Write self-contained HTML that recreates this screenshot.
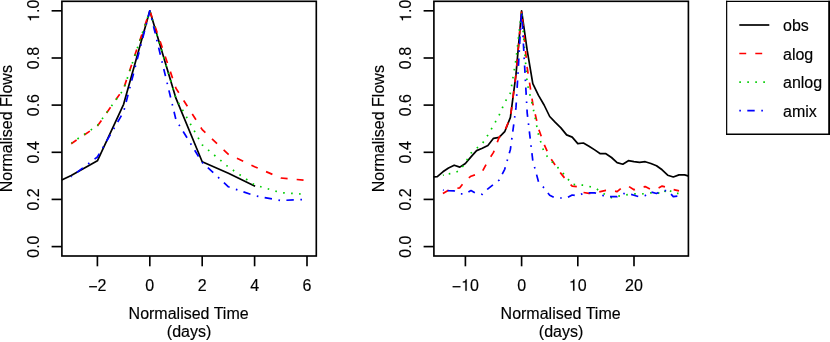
<!DOCTYPE html>
<html><head><meta charset="utf-8"><title>Normalised Flows</title>
<style>
html,body{margin:0;padding:0;background:#fff;}
body{width:830px;height:342px;overflow:hidden;}
svg{display:block;will-change:transform;}
text{font-family:"Liberation Sans",sans-serif;font-size:16px;fill:#000;stroke:#000;stroke-width:0.15px;}
</style></head><body>
<svg width="830" height="342" viewBox="0 0 830 342">
<rect x="0" y="0" width="830" height="342" fill="#fff"/>
<polyline points="61.7,180.0 71.2,175.4 97.4,160.8 123.6,104.3 149.8,10.8 176.0,98.4 202.2,161.8 228.4,173.2 255.1,186.2" fill="none" stroke="#000" stroke-width="1.7" stroke-linejoin="round"/>
<polyline points="71.2,143.7 97.4,126.1 123.6,88.6 149.8,10.8 176.0,88.4 202.2,129.6 228.4,154.3 254.6,166.7 280.8,178.0 307.0,180.5" fill="none" stroke="#FF0000" stroke-width="1.7" stroke-linejoin="round" stroke-dasharray="6.9 9.1" stroke-dashoffset="0.4"/>
<polyline points="71.5,143.0 97.4,125.5 123.6,89.4 149.8,10.8 176.0,98.4 202.2,144.9 228.4,167.0 254.6,184.9 280.8,192.7 307.0,194.4" fill="none" stroke="#00CD00" stroke-width="1.7" stroke-linejoin="round" stroke-dasharray="1.6 6.4" stroke-dashoffset="0.8"/>
<polyline points="71.2,176.7 97.4,157.0 123.6,111.8 149.8,10.8 176.0,119.9 202.2,162.4 228.4,186.8 254.6,195.7 280.8,200.5 307.0,199.4" fill="none" stroke="#0000FF" stroke-width="1.7" stroke-linejoin="round" stroke-dasharray="1.6 6.4 7.4 6.6" stroke-dashoffset="0.8"/>
<rect x="61.9" y="1.3" width="254.4" height="254.7" fill="none" stroke="#000" stroke-width="1.65"/>
<line x1="51.6" y1="246.6" x2="61.9" y2="246.6" stroke="#000" stroke-width="1.65"/>
<text transform="translate(39.1,246.6) rotate(-90)" text-anchor="middle">0.0</text>
<line x1="51.6" y1="199.4" x2="61.9" y2="199.4" stroke="#000" stroke-width="1.65"/>
<text transform="translate(39.1,199.4) rotate(-90)" text-anchor="middle">0.2</text>
<line x1="51.6" y1="152.3" x2="61.9" y2="152.3" stroke="#000" stroke-width="1.65"/>
<text transform="translate(39.1,152.3) rotate(-90)" text-anchor="middle">0.4</text>
<line x1="51.6" y1="105.1" x2="61.9" y2="105.1" stroke="#000" stroke-width="1.65"/>
<text transform="translate(39.1,105.1) rotate(-90)" text-anchor="middle">0.6</text>
<line x1="51.6" y1="58.0" x2="61.9" y2="58.0" stroke="#000" stroke-width="1.65"/>
<text transform="translate(39.1,58.0) rotate(-90)" text-anchor="middle">0.8</text>
<line x1="51.6" y1="10.8" x2="61.9" y2="10.8" stroke="#000" stroke-width="1.65"/>
<path transform="translate(39.1,10.8) rotate(-90) translate(-11.12,0) scale(0.0160)" d="M259 -505 L259 0 L347 0 L347 -709 L289 -709 C258 -600 238 -585 102 -568 L102 -505 Z" fill="#000" stroke="#000" stroke-width="9"/><text transform="translate(39.1,10.8) rotate(-90)" x="-2.22" y="0">.0</text>
<line x1="97.4" y1="256.0" x2="97.4" y2="266.3" stroke="#000" stroke-width="1.65"/>
<text transform="translate(97.4,290.7)" x="-9.12" y="1.4">−</text><text transform="translate(97.4,290.7)" x="0.22" y="0">2</text>
<line x1="149.8" y1="256.0" x2="149.8" y2="266.3" stroke="#000" stroke-width="1.65"/>
<text transform="translate(149.8,290.7)" text-anchor="middle">0</text>
<line x1="202.2" y1="256.0" x2="202.2" y2="266.3" stroke="#000" stroke-width="1.65"/>
<text transform="translate(202.2,290.7)" text-anchor="middle">2</text>
<line x1="254.6" y1="256.0" x2="254.6" y2="266.3" stroke="#000" stroke-width="1.65"/>
<text transform="translate(254.6,290.7)" text-anchor="middle">4</text>
<line x1="307.0" y1="256.0" x2="307.0" y2="266.3" stroke="#000" stroke-width="1.65"/>
<text transform="translate(307.0,290.7)" text-anchor="middle">6</text>
<text x="188.6" y="318.5" text-anchor="middle">Normalised Time</text>
<text x="189.1" y="336.5" text-anchor="middle">(days)</text>
<text transform="translate(11.7,128.7) rotate(-90)" text-anchor="middle">Normalised Flows</text>
<polyline points="433.4,176.8 437.3,176.6 442.9,171.8 448.5,168.0 454.2,165.2 459.8,167.1 465.4,163.5 471.0,156.9 476.6,150.6 482.3,148.3 487.9,145.6 493.5,138.3 499.1,137.4 504.7,131.7 510.4,117.4 516.0,74.4 521.6,10.8 527.2,50.4 532.8,83.7 538.5,95.4 544.1,105.0 549.7,116.5 555.3,122.4 560.9,127.9 566.6,134.9 572.2,137.1 577.8,143.6 583.4,143.0 589.0,146.2 594.7,149.9 600.3,153.7 605.9,153.7 611.5,157.5 617.1,162.6 622.8,164.2 628.4,160.7 634.0,161.6 639.6,162.3 645.2,161.7 650.9,163.5 656.5,165.7 662.1,169.8 667.7,175.2 673.3,177.0 679.0,174.9 684.6,174.9 688.8,176.1" fill="none" stroke="#000" stroke-width="1.7" stroke-linejoin="round"/>
<polyline points="442.9,193.6 448.5,190.3 454.2,188.9 459.8,187.8 465.4,180.5 471.0,176.2 476.6,174.3 482.3,171.5 487.9,161.1 493.5,152.4 499.1,137.4 504.7,130.9 510.4,117.4 516.0,74.4 521.6,10.8 527.2,67.9 532.8,103.6 538.5,128.6 544.1,144.3 549.7,156.9 555.3,165.2 560.9,173.4 566.6,180.5 572.2,186.2 577.8,186.8 583.4,192.5 589.0,193.4 594.7,192.9 600.3,191.6 605.9,190.4 611.5,190.2 617.1,191.6 622.8,186.8 628.4,186.2 634.0,189.8 639.6,187.4 645.2,186.6 650.9,189.5 656.5,189.0 662.1,186.1 667.7,187.7 673.3,189.5 679.0,190.9" fill="none" stroke="#FF0000" stroke-width="1.7" stroke-linejoin="round" stroke-dasharray="6.9 9.1" stroke-dashoffset="0.4"/>
<line x1="442.9" y1="175.3" x2="443.7" y2="175.1" stroke="#00CD00" stroke-width="1.7"/><polyline points="442.9,175.3 448.5,174.0 454.2,173.0 459.8,170.5 465.4,162.6 471.0,153.1 476.6,148.3 482.3,143.7 487.9,134.9 493.5,125.4 499.1,115.4 504.7,102.4 510.4,93.0 516.0,59.4 521.6,10.8 527.2,83.4 532.8,106.4 538.5,134.8 544.1,152.4 549.7,159.6 555.3,165.0 560.9,170.7 566.6,177.4 572.2,184.3 577.8,184.9 583.4,185.1 589.0,186.4 594.7,187.7 600.3,191.3 605.9,195.1 611.5,197.6 617.1,196.4 622.8,195.4 628.4,194.5 634.0,193.8 639.6,194.1 645.2,193.6 650.9,192.9 656.5,192.2 662.1,194.5 667.7,188.4 673.3,193.5 679.0,193.4" fill="none" stroke="#00CD00" stroke-width="1.7" stroke-linejoin="round" stroke-dasharray="1.6 6.4" stroke-dashoffset="2.0"/>
<line x1="442.9" y1="190.1" x2="443.7" y2="190.2" stroke="#0000FF" stroke-width="1.7"/><polyline points="442.9,190.1 448.5,190.6 454.2,190.9 459.8,193.8 465.4,193.8 471.0,190.6 476.6,193.8 482.3,194.3 487.9,188.8 493.5,184.4 499.1,180.1 504.7,169.3 510.4,149.4 516.0,107.4 521.6,10.8 527.2,113.1 532.8,160.6 538.5,181.8 544.1,188.0 549.7,195.2 555.3,198.0 560.9,198.0 566.6,198.0 572.2,195.0 577.8,195.9 583.4,193.2 589.0,192.9 594.7,192.9 600.3,194.5 605.9,196.7 611.5,196.7 617.1,196.7 622.8,193.5 628.4,193.7 634.0,195.2 639.6,196.9 645.2,195.6 650.9,191.9 656.5,193.5 662.1,190.6 667.7,190.6 673.3,196.6 679.0,195.9" fill="none" stroke="#0000FF" stroke-width="1.7" stroke-linejoin="round" stroke-dasharray="1.6 6.4 7.4 6.6" stroke-dashoffset="3.3"/>
<rect x="433.9" y="1.3" width="254.5" height="254.7" fill="none" stroke="#000" stroke-width="1.65"/>
<line x1="423.6" y1="246.6" x2="433.9" y2="246.6" stroke="#000" stroke-width="1.65"/>
<text transform="translate(411.1,246.6) rotate(-90)" text-anchor="middle">0.0</text>
<line x1="423.6" y1="199.4" x2="433.9" y2="199.4" stroke="#000" stroke-width="1.65"/>
<text transform="translate(411.1,199.4) rotate(-90)" text-anchor="middle">0.2</text>
<line x1="423.6" y1="152.3" x2="433.9" y2="152.3" stroke="#000" stroke-width="1.65"/>
<text transform="translate(411.1,152.3) rotate(-90)" text-anchor="middle">0.4</text>
<line x1="423.6" y1="105.1" x2="433.9" y2="105.1" stroke="#000" stroke-width="1.65"/>
<text transform="translate(411.1,105.1) rotate(-90)" text-anchor="middle">0.6</text>
<line x1="423.6" y1="58.0" x2="433.9" y2="58.0" stroke="#000" stroke-width="1.65"/>
<text transform="translate(411.1,58.0) rotate(-90)" text-anchor="middle">0.8</text>
<line x1="423.6" y1="10.8" x2="433.9" y2="10.8" stroke="#000" stroke-width="1.65"/>
<path transform="translate(411.1,10.8) rotate(-90) translate(-11.12,0) scale(0.0160)" d="M259 -505 L259 0 L347 0 L347 -709 L289 -709 C258 -600 238 -585 102 -568 L102 -505 Z" fill="#000" stroke="#000" stroke-width="9"/><text transform="translate(411.1,10.8) rotate(-90)" x="-2.22" y="0">.0</text>
<line x1="465.4" y1="256.0" x2="465.4" y2="266.3" stroke="#000" stroke-width="1.65"/>
<text transform="translate(465.4,290.7)" x="-13.57" y="1.4">−</text><path transform="translate(465.4,290.7) translate(-4.22,0) scale(0.0160)" d="M259 -505 L259 0 L347 0 L347 -709 L289 -709 C258 -600 238 -585 102 -568 L102 -505 Z" fill="#000" stroke="#000" stroke-width="9"/><text transform="translate(465.4,290.7)" x="4.67" y="0">0</text>
<line x1="521.6" y1="256.0" x2="521.6" y2="266.3" stroke="#000" stroke-width="1.65"/>
<text transform="translate(521.6,290.7)" text-anchor="middle">0</text>
<line x1="577.8" y1="256.0" x2="577.8" y2="266.3" stroke="#000" stroke-width="1.65"/>
<path transform="translate(577.8,290.7) translate(-8.90,0) scale(0.0160)" d="M259 -505 L259 0 L347 0 L347 -709 L289 -709 C258 -600 238 -585 102 -568 L102 -505 Z" fill="#000" stroke="#000" stroke-width="9"/><text transform="translate(577.8,290.7)" x="0.00" y="0">0</text>
<line x1="634.0" y1="256.0" x2="634.0" y2="266.3" stroke="#000" stroke-width="1.65"/>
<text transform="translate(634.0,290.7)" text-anchor="middle">20</text>
<text x="560.6" y="318.5" text-anchor="middle">Normalised Time</text>
<text x="561.1" y="336.5" text-anchor="middle">(days)</text>
<text transform="translate(383.7,128.7) rotate(-90)" text-anchor="middle">Normalised Flows</text>
<rect x="726.6" y="1.4" width="102.5" height="132.7" fill="#fff"/>
<line x1="726.65" y1="0.8" x2="726.65" y2="134.9" stroke="#000" stroke-width="1.2"/>
<line x1="726.1" y1="1.35" x2="830" y2="1.35" stroke="#000" stroke-width="1.1"/>
<line x1="829.1" y1="0.8" x2="829.1" y2="134.9" stroke="#000" stroke-width="1.8"/>
<line x1="726.1" y1="134.15" x2="830" y2="134.15" stroke="#000" stroke-width="1.5"/>
<line x1="739.3" y1="25.0" x2="769.3" y2="25.0" stroke="#000" stroke-width="1.7"/>
<text x="783" y="31.2">obs</text>
<line x1="739.3" y1="53.5" x2="769.3" y2="53.5" stroke="#FF0000" stroke-width="1.7" stroke-dasharray="6.9 9.1"/>
<text x="783" y="59.7">alog</text>
<line x1="739.3" y1="82.1" x2="769.3" y2="82.1" stroke="#00CD00" stroke-width="1.7" stroke-dasharray="1.6 6.4"/>
<text x="783" y="88.3">anlog</text>
<line x1="739.3" y1="110.6" x2="769.3" y2="110.6" stroke="#0000FF" stroke-width="1.7" stroke-dasharray="1.6 6.4 7.4 6.6"/>
<text x="783" y="116.8">amix</text>
</svg></body></html>
